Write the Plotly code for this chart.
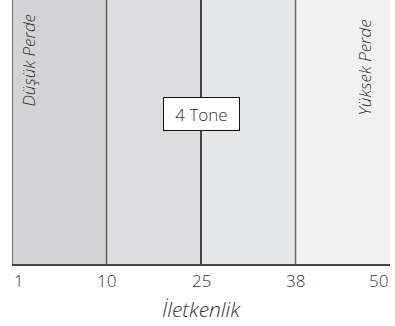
import plotly.graph_objects as go

# Data
tick_labels = ["1", "10", "25", "38", "50"]
region_names = ["Düşük", "Orta-Düşük", "Orta-Yüksek", "Yüksek"]
region_colors = ["#d3d3d5", "#dcdcde", "#e5e6e8", "#f1f1f1"]
region_heights = [1, 1, 1, 1]
divider_positions = [1, 2, 3]
divider_colors = ["#5a5a5a", "#111111", "#6a6a6a"]

FONT = "Open Sans"
TXT = "#333333"

fig = go.Figure()
fig.add_trace(go.Bar(
    x=[i + 0.5 for i in range(len(region_names))],
    y=region_heights,
    width=1,
    marker=dict(color=region_colors, line=dict(width=0)),
    hoverinfo="skip",
    showlegend=False,
))
for xp, c in zip(divider_positions, divider_colors):
    fig.add_trace(go.Scatter(x=[xp, xp], y=[0, 1], mode="lines",
                             line=dict(color=c, width=1.5), hoverinfo="skip", showlegend=False))
fig.add_trace(go.Scatter(x=[0, 0], y=[0, 1], mode="lines",
                         line=dict(color="#555555", width=1.5), hoverinfo="skip", showlegend=False))

annotations = []
n = len(tick_labels)
for i, lab in enumerate(tick_labels):
    anchor = "left" if i == 0 else ("right" if i == n - 1 else "center")
    annotations.append(dict(x=i, xref="x", y=0, yref="paper", yanchor="top", yshift=-3,
                            xanchor=anchor, text=lab, showarrow=False,
                            font=dict(family=FONT, size=17, color=TXT, weight=300)))

annotations += [
    dict(x=0.5, xref="paper", y=0, yref="paper", yanchor="top", yshift=-29,
         text="<i>İletkenlik</i>", showarrow=False,
         font=dict(family=FONT, size=21, color=TXT, weight=300)),
    dict(x=0.17, xref="x", y=1, yref="paper", yanchor="top", yshift=-12,
         text="<i>Düşük Perde</i>", textangle=-90, showarrow=False,
         font=dict(family=FONT, size=17, color=TXT, weight=300)),
    dict(x=3.72, xref="x", y=1, yref="paper", yanchor="top", yshift=-18,
         text="<i>Yüksek Perde</i>", textangle=-90, showarrow=False,
         font=dict(family=FONT, size=17, color=TXT, weight=300)),
    dict(x=2, xref="x", y=1 - 114 / 264, yref="paper",
         text="4 Tone", showarrow=False, bgcolor="white",
         bordercolor="#111111", borderwidth=1, borderpad=1, width=73, height=30,
         font=dict(family=FONT, size=17, color=TXT, weight=300)),
]

fig.update_layout(
    width=395, height=326,
    margin=dict(l=12, r=5, t=0, b=62, autoexpand=False),
    paper_bgcolor="white", plot_bgcolor="white",
    bargap=0,
    xaxis=dict(
        range=[0, 4], automargin=False,
        showgrid=False, zeroline=False, showticklabels=False,
        showline=True, linecolor="#444444", linewidth=2, ticks="",
    ),
    yaxis=dict(range=[0, 1], visible=False, fixedrange=True, automargin=False),
    annotations=annotations,
)

fig.write_html("out.html", config={"displayModeBar": False},
               post_script="document.body.style.margin='0';document.body.style.overflow='hidden';")
